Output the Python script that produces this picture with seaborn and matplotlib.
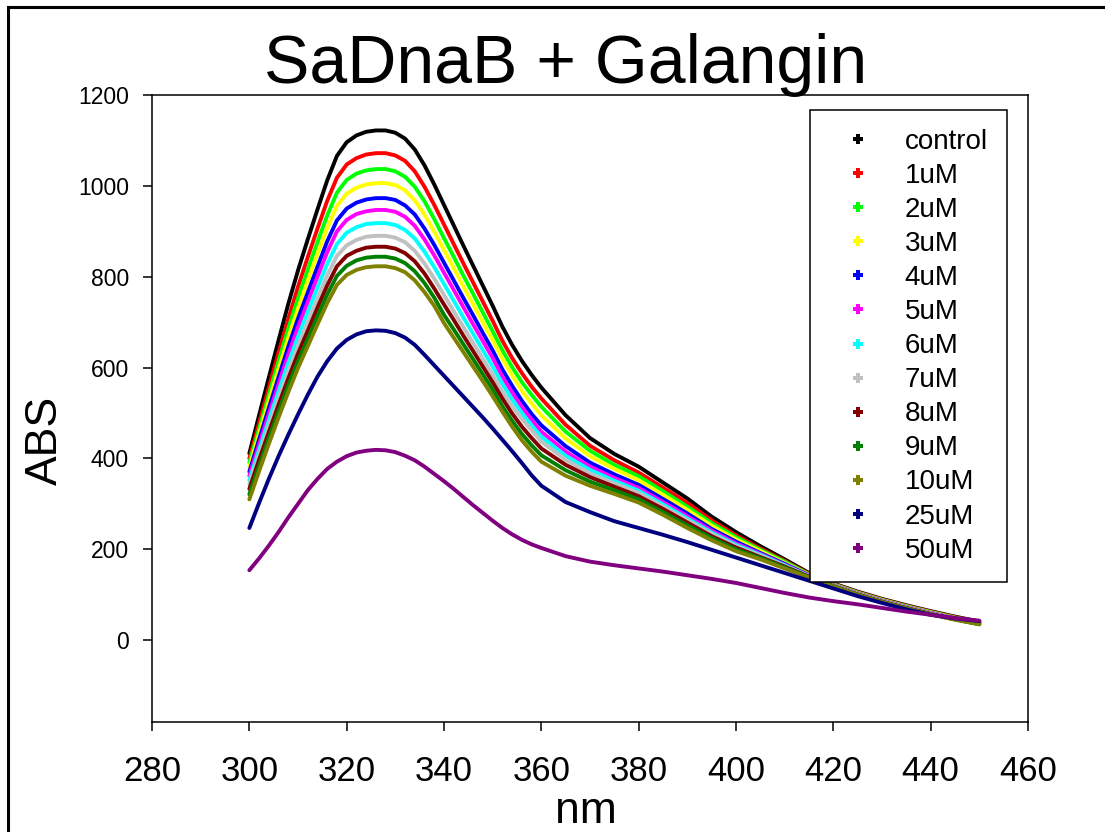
import matplotlib
matplotlib.use("Agg")
import matplotlib.pyplot as plt
from matplotlib.lines import Line2D
from matplotlib.patches import Rectangle
import pandas as pd
import seaborn as sns

# Wavelength grid (nm): 2 nm steps over the band, 5 nm steps in the tail
wavelength = list(range(300, 361, 2)) + list(range(365, 451, 5))

# Absorbance spectra for each galangin concentration
control = [411, 495, 578, 660, 740, 814, 882, 948, 1012, 1066, 1096, 1111, 1119, 1122, 1122, 1117,
           1104, 1080, 1045, 1003, 958, 913, 868, 824, 780, 736, 690, 650, 615, 584, 556,
           495, 445, 410, 382, 347, 312, 272, 238, 207, 178, 148, 125, 107, 91, 77, 64, 52, 41]
uM_1 = [400, 478, 556, 633, 707, 778, 843, 906, 967, 1018, 1047, 1061, 1069, 1072, 1072, 1067,
        1055, 1032, 998, 958, 915, 872, 829, 787, 745, 703, 659, 621, 588, 558, 532,
        474, 428, 396, 369, 336, 302, 264, 231, 202, 175, 146, 124, 106, 90, 76, 63, 51, 40]
uM_2 = [391, 465, 540, 614, 686, 752, 815, 876, 935, 985, 1013, 1027, 1034, 1037, 1037, 1032,
        1020, 998, 966, 927, 885, 844, 802, 762, 721, 680, 638, 601, 568, 540, 514,
        459, 417, 386, 361, 328, 294, 258, 227, 199, 173, 145, 123, 105, 89, 75, 62, 50, 39]
uM_3 = [381, 454, 526, 597, 666, 730, 791, 850, 907, 956, 983, 996, 1003, 1006, 1006, 1002,
        990, 968, 937, 899, 859, 819, 778, 739, 699, 660, 619, 583, 549, 521, 495,
        444, 405, 377, 352, 320, 287, 252, 222, 196, 170, 144, 122, 104, 88, 74, 61, 49, 38]
uM_4 = [371, 442, 511, 579, 646, 708, 765, 822, 878, 924, 950, 963, 970, 973, 973, 969,
        957, 937, 906, 870, 831, 792, 753, 715, 676, 638, 596, 560, 527, 498, 473,
        427, 391, 365, 342, 311, 279, 245, 217, 192, 168, 143, 121, 103, 87, 73, 60, 48, 38]
uM_5 = [362, 431, 498, 564, 629, 689, 744, 800, 854, 900, 925, 938, 944, 947, 947, 943,
        932, 912, 882, 847, 809, 771, 733, 695, 658, 621, 580, 545, 513, 485, 459,
        415, 382, 357, 335, 304, 273, 241, 213, 190, 166, 142, 121, 103, 87, 73, 60, 48, 37]
uM_6 = [352, 419, 484, 548, 610, 668, 722, 776, 828, 872, 897, 909, 916, 918, 918, 914,
        903, 884, 855, 821, 784, 747, 710, 674, 638, 602, 564, 530, 500, 473, 448,
        406, 375, 351, 329, 299, 268, 237, 210, 188, 165, 141, 120, 102, 86, 72, 59, 47, 37]
uM_7 = [343, 408, 471, 532, 592, 648, 700, 752, 803, 846, 869, 881, 888, 890, 890, 886,
        876, 857, 829, 796, 760, 724, 689, 654, 619, 584, 547, 515, 487, 462, 437,
        397, 367, 345, 324, 294, 264, 234, 207, 186, 163, 141, 120, 102, 86, 72, 59, 47, 36]
uM_8 = [333, 397, 458, 518, 576, 631, 681, 732, 781, 823, 846, 857, 864, 866, 866, 862,
        852, 834, 807, 774, 739, 705, 670, 636, 602, 568, 532, 499, 470, 445, 422,
        386, 359, 338, 317, 289, 259, 229, 204, 183, 162, 140, 119, 101, 85, 71, 58, 46, 36]
uM_9 = [321, 384, 445, 504, 561, 614, 663, 713, 761, 802, 824, 836, 842, 844, 844, 840,
        830, 812, 786, 754, 716, 684, 651, 618, 585, 552, 515, 483, 454, 429, 407,
        374, 349, 330, 310, 282, 253, 225, 200, 181, 160, 139, 119, 100, 84, 70, 57, 46, 35]
uM_10 = [310, 372, 432, 490, 546, 599, 647, 695, 742, 782, 804, 815, 821, 823, 823, 819,
         810, 792, 766, 736, 698, 666, 634, 602, 570, 537, 503, 470, 440, 415, 393,
         362, 340, 322, 303, 276, 247, 220, 196, 178, 158, 138, 118, 100, 84, 70, 57, 45, 35]
uM_25 = [247, 302, 355, 405, 452, 497, 540, 580, 614, 642, 661, 673, 680, 682, 681, 676,
         666, 650, 628, 605, 582, 559, 536, 513, 490, 466, 441, 416, 390, 363, 340,
         304, 282, 262, 247, 232, 216, 199, 182, 165, 148, 131, 114, 97, 82, 68, 56, 48, 42]
uM_50 = [154, 180, 208, 238, 270, 300, 330, 355, 377, 393, 405, 413, 417, 419, 418, 414,
         406, 396, 382, 366, 350, 333, 315, 297, 280, 263, 247, 233, 221, 211, 203,
         185, 173, 165, 158, 151, 143, 135, 126, 115, 104, 94, 86, 79, 71, 63, 56, 49, 43]

series_names = ["control", "1uM", "2uM", "3uM", "4uM", "5uM", "6uM", "7uM", "8uM",
                "9uM", "10uM", "25uM", "50uM"]
series_values = [control, uM_1, uM_2, uM_3, uM_4, uM_5, uM_6, uM_7, uM_8, uM_9,
                 uM_10, uM_25, uM_50]
series_colors = ["#000000", "#FF0000", "#00FF00", "#FFFF00", "#0000FF", "#FF00FF",
                 "#00FFFF", "#C0C0C0", "#800000", "#008000", "#808000", "#000080",
                 "#800080"]

x_ticks = [280, 300, 320, 340, 360, 380, 400, 420, 440, 460]
y_ticks = [0, 200, 400, 600, 800, 1000, 1200]

rows = []
for name, vals in zip(series_names, series_values):
    for wl, v in zip(wavelength, vals):
        rows.append({"nm": wl, "ABS": v, "sample": name})
df = pd.DataFrame(rows)

sns.set_style("ticks")
plt.rcParams["font.family"] = ["Liberation Sans", "DejaVu Sans"]
for key in ["text.color", "axes.labelcolor", "xtick.color", "ytick.color",
            "axes.edgecolor"]:
    plt.rcParams[key] = "black"

W, H = 1105, 832
fig = plt.figure(figsize=(W / 100, H / 100), dpi=100)
ax = fig.add_axes([152 / W, 1 - 722 / H, (1028 - 152) / W, (722 - 95) / H])

sns.lineplot(data=df, x="nm", y="ABS", hue="sample", hue_order=series_names,
             palette=series_colors, linewidth=2.8, sort=False, legend=False, ax=ax)

ax.set_xlim(280, 460)
ax.set_ylim(-180, 1200)
ax.set_xticks(x_ticks)
ax.set_yticks(y_ticks)
ax.set_xlabel("")
ax.set_ylabel("")
for side in ["left", "right", "top", "bottom"]:
    ax.spines[side].set_visible(True)
    ax.spines[side].set_linewidth(1.1)
    ax.spines[side].set_color("black")
ax.tick_params(axis="x", direction="out", length=6.5, width=1.1, pad=17,
               labelsize=25, colors="black", top=False)
ax.tick_params(axis="y", direction="out", length=6.5, width=1.1, pad=10,
               labelsize=16.5, colors="black", right=False)

# Legend with marker-only handles
handles = [Line2D([], [], marker="P", linestyle="none", color=c, markersize=7.5,
                  markeredgewidth=0) for c in series_colors]
leg = ax.legend(handles, series_names, loc="upper left",
                bbox_to_anchor=(810 / W, 1 - 110 / H), bbox_transform=fig.transFigure,
                fontsize=20, frameon=True, fancybox=False, shadow=False,
                borderpad=0.68, handlelength=2.09, handletextpad=0.64,
                labelspacing=0.29, borderaxespad=0)
leg.get_frame().set_edgecolor("black")
leg.get_frame().set_linewidth(1.1)
leg.get_frame().set_facecolor("white")
leg.get_frame().set_alpha(1)

fig.text(566 / W, 1 - 83 / H, "SaDnaB + Galangin", fontsize=49, ha="center",
         va="baseline")
fig.text(45 / W, 1 - 440 / H, "ABS", fontsize=32, rotation=90, ha="center",
         va="center")
fig.text(586 / W, 1 - 823 / H, "nm", fontsize=32, ha="center", va="baseline")

# Page frame
fig.patches.append(Rectangle((8 / W, -0.2), 1.5, 1 - 7 / H + 0.2,
                             transform=fig.transFigure, fill=False,
                             edgecolor="black", linewidth=2.2))

fig.savefig("out.png", dpi=100)
